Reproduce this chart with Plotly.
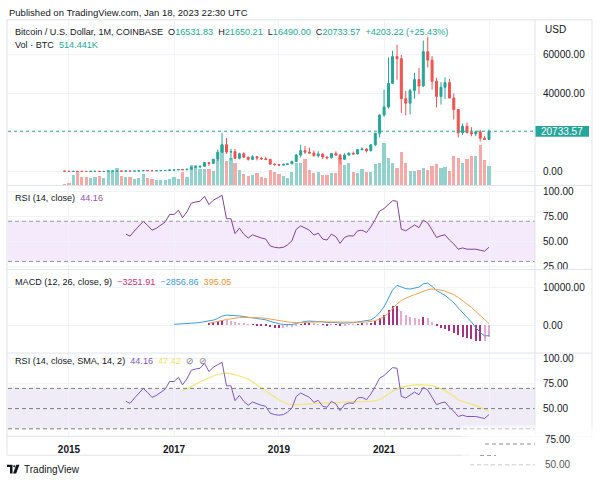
import plotly.graph_objects as go
import pandas as pd

W, H = 600, 485
def px(x):
    return x / W
def py(y):
    return 1 - y / H

FONT = "Liberation Sans, Arial, sans-serif"
TXT = "#131722"
UP, DN = "#26a69a", "#ef5350"
UP_V, DN_V = "#92d2cc", "#f7a9a7"
GRID = "#f0f3fa"
BORDER = "#e0e3eb"

# ---------------- data (monthly, Dec 2014 .. Jan 2023) ----------------
months = pd.date_range("2014-12-01", periods=98, freq="MS")

opens = [378, 320, 217, 254, 244, 236, 230, 263, 284, 230, 236, 314, 377,
         430, 369, 437, 416, 448, 531, 673, 624, 575, 608, 700, 742,
         963, 970, 1190, 1080, 1348, 2300, 2480, 2875, 4735, 4340, 6450, 10000,
         13880, 10100, 10320, 6930, 9240, 7490, 6390, 7730, 7030, 6630, 6370, 3990,
         3740, 3440, 3810, 4100, 5320, 8560, 10820, 10080, 9590, 8290, 9150, 7540,
         7190, 9350, 8540, 6410, 8630, 9450, 9140, 11350, 11650, 10780, 13800, 19700,
         28990, 33110, 45140, 58790, 57720, 37300, 35040, 41460, 47100, 43830, 61300, 57000,
         46200, 38480, 43160, 45510, 37640, 31790, 19930, 23290, 20050, 19420, 20490, 17170,
         16531.83]
highs = [455, 320, 265, 300, 260, 247, 268, 318, 285, 245, 335, 500, 470,
         460, 445, 440, 470, 550, 780, 705, 630, 615, 720, 750, 975,
         1150, 1210, 1300, 1360, 2760, 3000, 2920, 4970, 4980, 6470, 11400, 19890,
         17250, 11780, 11700, 9760, 9990, 7760, 8500, 7760, 7410, 7680, 6600, 4300,
         4100, 4210, 4140, 5640, 9090, 13880, 13200, 12340, 10950, 10540, 9510, 7750,
         9570, 10500, 9190, 9460, 10070, 10380, 11450, 12470, 12080, 14100, 19950, 29300,
         41950, 58350, 61780, 64900, 59600, 41330, 42400, 50500, 52940, 67000, 69000, 59100,
         47990, 45800, 48190, 47440, 40000, 31970, 24670, 25200, 22800, 21000, 21470, 18400,
         21650.21]
lows = [310, 170, 210, 240, 215, 225, 220, 253, 198, 225, 235, 300, 350,
        355, 365, 395, 412, 436, 530, 600, 470, 570, 600, 680, 740,
        750, 920, 890, 1060, 1340, 2100, 1830, 2700, 2980, 4110, 5500, 9700,
        9200, 5870, 6600, 6430, 7030, 5790, 6080, 5880, 6100, 6200, 3500, 3130,
        3360, 3390, 3770, 4090, 5300, 7450, 9080, 9330, 7720, 7300, 6520, 6410,
        6860, 8460, 3850, 6150, 8110, 8830, 8980, 10990, 9880, 10370, 13200, 17550,
        28130, 32300, 45000, 47000, 30000, 28800, 29280, 37330, 39600, 43300, 53260, 42000,
        32900, 34300, 37160, 37580, 26700, 17600, 18780, 19550, 18150, 18180, 15480, 16260,
        16490.00]
closes = [320, 217, 254, 244, 236, 230, 263, 284, 230, 236, 314, 377, 430,
          369, 437, 416, 448, 531, 673, 624, 575, 608, 700, 742, 963,
          970, 1190, 1080, 1348, 2300, 2480, 2875, 4735, 4340, 6450, 10000, 13880,
          10100, 10320, 6930, 9240, 7490, 6390, 7730, 7030, 6630, 6370, 3990, 3740,
          3440, 3810, 4100, 5320, 8560, 10820, 10080, 9590, 8290, 9150, 7540, 7190,
          9350, 8540, 6410, 8630, 9450, 9140, 11350, 11650, 10780, 13800, 19700, 28990,
          33110, 45140, 58790, 57720, 37300, 35040, 41460, 47100, 43830, 61300, 57000, 46200,
          38480, 43160, 45510, 37640, 31790, 19930, 23290, 20050, 19420, 20490, 17170, 16530,
          20733.57]
# volume, thousand BTC
volume_k = [44, 60, 283, 342, 231, 213, 198, 231, 239, 198, 393, 411, 445,
            257, 213, 213, 172, 198, 301, 198, 172, 146, 146, 154, 172,
            231, 172, 360, 213, 532, 532, 429, 429, 429, 368, 668, 1054,
            643, 727, 583, 411, 301, 257, 283, 326, 231, 198, 411, 360,
            301, 239, 188, 360, 591, 591, 686, 403, 316, 342, 283, 283,
            326, 326, 712, 532, 583, 360, 316, 419, 360, 360, 558, 599,
            1097, 720, 599, 455, 882, 583, 378, 386, 411, 445, 411, 514,
            565, 445, 470, 386, 771, 712, 599, 686, 771, 771, 1054, 668,
            514.441]

# RSI(14) from Feb 2016
rsi = [57.2, 55.2, 60.5, 65.4, 69.9, 66.0, 61.1, 63.1, 66.3, 69.3, 76.8,
       76.8, 81.0, 73.5, 79.4, 87.9, 89.2, 89.9, 94.8, 86.6, 90.9, 93.8, 95.8,
       72.5, 72.5, 57.8, 63.1, 57.2, 53.3, 56.5, 54.6, 53.3, 52.3, 45.4, 44.1,
       43.5, 44.1, 46.5, 50.5, 62.0, 65.4, 63.1, 61.1, 56.2, 58.2, 52.3, 51.3,
       57.2, 54.6, 48.0, 53.9, 55.6, 55.2, 60.5, 61.1, 58.8, 64.4, 71.9, 80.1,
       82.7, 86.6, 90.5, 89.9, 62.1, 60.5, 63.7, 66.3, 63.7, 71.2, 68.3, 61.1,
       53.9, 55.6, 56.5, 51.3, 47.4, 42.2, 43.5, 42.2, 42.2, 42.2, 41.2, 40.2,
       44.16]
# SMA(14) of RSI from Mar 2017
rsi_sma = [67.5, 69.5, 71.8, 74.0, 76.3, 78.5, 80.3, 82.2, 84.0, 84.8,
           85.0, 84.5, 83.5, 82.5, 81.0, 79.2, 76.5, 73.8, 70.5, 67.5, 64.5, 61.5,
           58.7, 56.5, 54.8, 54.0, 53.8, 54.0, 54.5, 54.8, 55.0, 55.3, 55.5, 55.8,
           56.0, 56.2, 56.3, 56.5, 56.6, 56.6, 56.7, 56.8, 56.9, 57.2, 57.6, 59.0,
           61.5, 64.5, 67.5, 69.8, 71.3, 72.3, 73.0, 73.5, 73.8, 73.9, 73.3, 72.8,
           71.5, 69.7, 67.9, 65.3, 62.3, 58.8, 57.5, 56.2, 54.7, 53.0, 51.3, 49.1,
           47.42]
# MACD(12,26) from Jan 2017
macd = [190, 230, 260, 300, 420, 560, 680, 900, 1050, 1320, 1750, 2400,
        2650, 2680, 2520, 2450, 2300, 2100, 1980, 1800, 1600, 1400, 1000, 640,
        330, 150, 60, 120, 400, 780, 980, 1070, 1020, 1010, 860, 690,
        720, 690, 480, 510, 590, 630, 830, 1000, 1040, 1360, 2150, 3300,
        4900, 7100, 9400, 10700, 10200, 9800, 9700, 9900, 10200, 11100, 11300, 10400,
        9300, 8600, 8000, 7000, 6000, 4600, 3400, 2100, 800, -700, -2000, -2950,
        -2856.86]
# signal(9) from Sep 2017
signal = [510, 672, 888, 1190,
          1482, 1722, 1882, 1996, 2057, 2066, 2049, 1999, 1919, 1815, 1652, 1450,
          1226, 1011, 821, 681, 625, 656, 721, 791, 837, 872, 870, 834,
          811, 787, 726, 683, 664, 657, 692, 754, 811, 921, 1167, 1594,
          2255, 3224, 4459, 5707, 6606, 7245, 7736, 8169, 8575, 9080, 9524, 9699,
          9619, 9415, 9132, 8706, 8165, 7452, 6642, 5734, 4747, 3658, 2526, 1431,
          395.05]

rsi_x = months[14:]
sma_x = months[27:]
macd_x = months[25:]
sig_x = months[33:]
hist = [m - s for m, s in zip(macd[8:], signal)]

# ---------------- figure ----------------
fig = go.Figure()
vol_colors = [UP_V if c >= o else DN_V for o, c in zip(opens, closes)]
DAY = 86400000
fig.add_trace(go.Bar(x=months, y=volume_k, marker=dict(color=vol_colors, line_width=0),
                     width=22 * DAY, xaxis="x", yaxis="y"))
fig.add_trace(go.Candlestick(x=months, open=opens, high=highs, low=lows, close=closes,
                             increasing=dict(line=dict(color=UP, width=1), fillcolor=UP),
                             decreasing=dict(line=dict(color=DN, width=1), fillcolor=DN),
                             whiskerwidth=0, xaxis="x", yaxis="y5"))
fig.add_trace(go.Scatter(x=rsi_x, y=rsi, mode="lines", line=dict(color="#84409a", width=1),
                         xaxis="x2", yaxis="y2"))
hcol = []
for i, h in enumerate(hist):
    p = hist[i - 1] if i > 0 else 0
    grow = (h >= p) if h >= 0 else (h <= p)
    hcol.append("#a8327f" if grow else "#e4aad2")
fig.add_trace(go.Bar(x=sig_x, y=hist, marker=dict(color=hcol, line_width=0), width=7 * DAY,
                     xaxis="x3", yaxis="y3"))
fig.add_trace(go.Scatter(x=macd_x, y=macd, mode="lines", line=dict(color="#3d9be0", width=1),
                         xaxis="x3", yaxis="y3"))
fig.add_trace(go.Scatter(x=sig_x, y=signal, mode="lines", line=dict(color="#f5a04a", width=1),
                         xaxis="x3", yaxis="y3"))
fig.add_trace(go.Scatter(x=sma_x, y=rsi_sma, mode="lines", line=dict(color="#f3e672", width=1.2),
                         xaxis="x4", yaxis="y4"))
fig.add_trace(go.Scatter(x=rsi_x, y=rsi, mode="lines", line=dict(color="#7e57c2", width=1),
                         xaxis="x4", yaxis="y4"))

XR = ["2013-11-03", "2023-11-17"]
XD = [px(8), px(535)]
year_ticks = ["2015-01-01", "2017-01-01", "2019-01-01", "2021-01-01", "2023-01-01"]
year_text = ["<b>2015</b>", "<b>2017</b>", "<b>2019</b>", "<b>2021</b>", ""]

def xax(anchor, labels=False):
    return dict(domain=XD, range=XR, type="date", anchor=anchor, showgrid=True,
                gridcolor=GRID, gridwidth=1, tickvals=year_ticks, ticktext=year_text,
                showticklabels=labels, ticks="", showline=False, zeroline=False,
                tickfont=dict(size=10, color=TXT, family=FONT), ticklabelstandoff=6,
                rangeslider=dict(visible=False), fixedrange=True)

def yax(dom, rng, vals, texts, anchor):
    return dict(domain=dom, range=rng, side="right", anchor=anchor, showgrid=True,
                gridcolor=GRID, gridwidth=1, tickvals=vals, ticktext=texts, ticks="",
                zeroline=False, showline=False, tickfont=dict(size=10, color=TXT, family=FONT),
                ticklabelstandoff=7, fixedrange=True)

D1 = [py(186), py(19)]
D2 = [py(270.7), py(186)]
D3 = [py(355), py(270.7)]
D4 = [py(439), py(355)]

fig.update_layout(
    width=W, height=H, margin=dict(l=0, r=0, t=0, b=0),
    paper_bgcolor="white", plot_bgcolor="white", showlegend=False,
    font=dict(family=FONT, color=TXT, size=10),
    xaxis=xax("y"), xaxis2=xax("y2"), xaxis3=xax("y3"), xaxis4=xax("y4", True),
    yaxis=dict(domain=D1, range=[0, 4292], visible=False, anchor="x", fixedrange=True),
    yaxis5=dict(overlaying="y", range=[-6930, 77540], side="right", anchor="x", showgrid=True,
                gridcolor=GRID, tickvals=[0, 20000, 40000, 60000],
                ticktext=["0.00", "", "40000.00", "60000.00"], ticks="", zeroline=False,
                tickfont=dict(size=10, color=TXT, family=FONT), ticklabelstandoff=7),
    yaxis2=yax(D2, [22.04, 105.6], [25, 50, 75, 100], ["25.00", "50.00", "75.00", "100.00"], "x2"),
    yaxis3=yax(D3, [-7567, 14973], [0, 10000], ["0.00", "10000.00"], "x3"),
    yaxis4=yax(D4, [22.55, 104.9], [50, 75, 100], ["50.00", "75.00", "100.00"], "x4"),
    bargap=0,
)

shapes = []
# RSI pane band
shapes.append(dict(type="rect", xref="x2 domain", yref="y2", x0=0, x1=1, y0=30, y1=70,
                   fillcolor="#f5e9fc", line_width=0, layer="below"))
for lv in (70, 30):
    shapes.append(dict(type="line", xref="x2 domain", yref="y2", x0=0, x1=1, y0=lv, y1=lv,
                       line=dict(color="#9598a1", width=1, dash="4px,3px")))
# RSI-SMA pane band
shapes.append(dict(type="rect", xref="x4 domain", yref="y4", x0=0, x1=1, y0=30, y1=70,
                   fillcolor="#efecf8", line_width=0, layer="below"))
for lv in (70, 50, 30):
    shapes.append(dict(type="line", xref="x4 domain", yref="y4", x0=0, x1=1, y0=lv, y1=lv,
                       line=dict(color="#787b86", width=1, dash="4px,3px")))
# price line
shapes.append(dict(type="line", xref="x domain", yref="y5", x0=0, x1=1, y0=closes[-1], y1=closes[-1],
                   line=dict(color=UP, width=1, dash="dot")))
# clip RSI 25 label
shapes.append(dict(type="rect", xref="paper", yref="paper", x0=px(536), x1=px(591), y0=py(276),
                   y1=py(270.9), fillcolor="white", line_width=0, layer="above"))
# frame and separators
for yy in (186, 270.7, 355, 439):
    shapes.append(dict(type="line", xref="paper", yref="paper", x0=px(7), x1=px(592),
                       y0=py(yy), y1=py(yy), line=dict(color=BORDER, width=1)))
shapes.append(dict(type="rect", xref="paper", yref="paper", x0=px(7), x1=px(592), y0=py(458),
                   y1=py(19), line=dict(color=BORDER, width=1), fillcolor="rgba(0,0,0,0)"))
shapes.append(dict(type="line", xref="paper", yref="paper", x0=px(535), x1=px(535), y0=py(458),
                   y1=py(19), line=dict(color=BORDER, width=1)))
# price badge
shapes.append(dict(type="rect", xref="paper", yref="paper", x0=px(535.5), x1=px(589), y0=py(137),
                   y1=py(126), fillcolor=UP, line_width=0, layer="above"))
# bottom-right wash
for x0, y0, op in ((462, 428, 0.55), (470, 436, 0.6), (478, 444, 0.7)):
    shapes.append(dict(type="rect", xref="paper", yref="paper", x0=px(x0), x1=px(600), y0=py(485),
                       y1=py(y0), fillcolor="white", opacity=op, line_width=0, layer="above"))
for x0, x1, yy, col in ((485, 535, 446.7, "#8a8d96"), (480, 496, 458.3, "#a0a3ab"),
                        (470, 535, 467.7, "#c9cbd1")):
    shapes.append(dict(type="line", xref="paper", yref="paper", x0=px(x0), x1=px(x1), y0=py(yy),
                       y1=py(yy), line=dict(color=col, width=1, dash="4px,3px"), layer="above"))
# TradingView logo glyph
shapes.append(dict(type="path", xref="paper", yref="paper",
                   path=f"M {px(7)},{py(467.5)} L {px(12.5)},{py(467.5)} L {px(12.5)},{py(476.5)} "
                        f"L {px(10)},{py(476.5)} L {px(10)},{py(469.8)} L {px(7)},{py(469.8)} Z",
                   fillcolor=TXT, line_width=0, layer="above"))
shapes.append(dict(type="circle", xref="paper", yref="paper", x0=px(13.2), x1=px(15.4),
                   y0=py(470.2), y1=py(468), fillcolor=TXT, line_width=0, layer="above"))
shapes.append(dict(type="path", xref="paper", yref="paper",
                   path=f"M {px(16.3)},{py(467.5)} L {px(19.5)},{py(467.5)} L {px(16.2)},{py(476.5)} "
                        f"L {px(13)},{py(476.5)} Z",
                   fillcolor=TXT, line_width=0, layer="above"))
fig.update_layout(shapes=shapes)

NB = "\u00a0"
def ann(x, y, text, size=9, color=TXT, xanchor="left"):
    return dict(x=px(x), y=py(y), xref="paper", yref="paper", text=text, showarrow=False,
                xanchor=xanchor, yanchor="middle", font=dict(size=size, color=color, family=FONT))

def c(t, col):
    return f"<span style='color:{col}'>{t}</span>"

TEAL_T = "#22ab94"
main_leg = ("Bitcoin / U.S. Dollar, 1M, COINBASE" + NB * 2 + "O" + c("16531.83", TEAL_T) + NB * 2 +
            "H" + c("21650.21", TEAL_T) + NB * 2 + "L" + c("16490.00", TEAL_T) + NB * 2 +
            "C" + c("20733.57", TEAL_T) + NB * 2 + c("+4203.22" + NB + "(+25.43%)", TEAL_T))
annotations = [
    ann(7, 12, "Published on TradingView.com, Jan 18, 2023 22:30 UTC", 9.5),
    ann(13, 31, main_leg, 9.1),
    ann(13, 44, "Vol · BTC" + NB * 2 + c("514.441K", TEAL_T), 9.1),
    ann(13, 199, "RSI (14, close)" + NB * 2 + c("44.16", "#9c4fb0"), 9.1),
    ann(13, 283, "MACD (12, 26, close, 9)" + NB * 2 + c("−3251.91", "#c2307f") + NB * 2 +
        c("−2856.86", "#3d9be0") + NB * 2 + c("395.05", "#f0932b"), 9.1),
    ann(13, 363, "RSI (14, close, SMA, 14, 2)" + NB * 2 + c("44.16", "#7e57c2") + NB * 2 +
        c("47.42", "#f0e060") + NB * 2 + c("⊘" + NB * 2 + "⊘", "#787b86"), 9.1),
    ann(543, 29, "USD", 10),
    ann(562, 131.5, "20733.57", 10, "white", "center"),
    ann(22, 472, "TradingView", 10),
    ann(543, 442.3, "75.00", 10),
    ann(543, 467.3, "50.00", 10, "#555"),
]
fig.update_layout(annotations=annotations)

fig.write_html("out.html")
